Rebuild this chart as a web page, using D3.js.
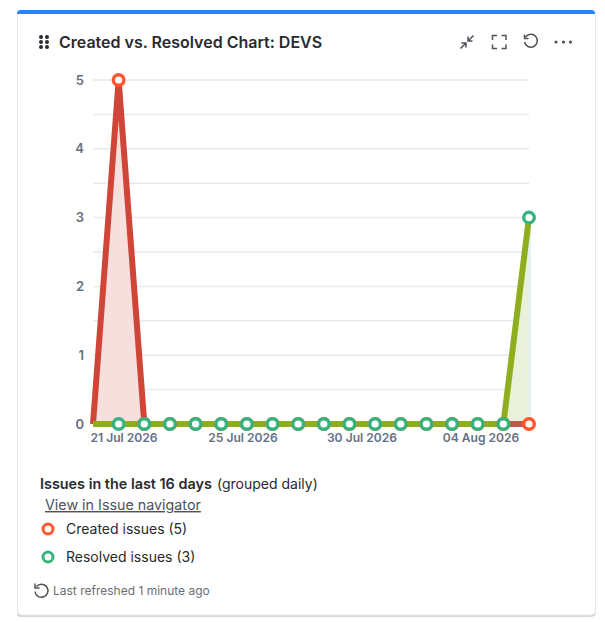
<!DOCTYPE html>
<html>
<head>
<meta charset="utf-8">
<script src="https://cdn.jsdelivr.net/npm/d3@7"></script>
<style>
  html, body { margin: 0; padding: 0; background: #fff; }
  svg { display: block; }
  text { font-family: Inter, "Noto Sans", sans-serif; }
</style>
</head>
<body>
<svg id="chart"></svg>
<script>
// one entry per day shown on the chart
const days = ['20 Jul', '21 Jul', '22 Jul', '23 Jul', '24 Jul', '25 Jul', '26 Jul', '27 Jul', '28 Jul',
              '29 Jul', '30 Jul', '31 Jul', '01 Aug', '02 Aug', '03 Aug', '04 Aug', '05 Aug', '06 Aug']
const created  = [0, 5, 0, 0, 0, 0, 0, 0, 0, 0, 0, 0, 0, 0, 0, 0, 0, 0]
const resolved = [0, 0, 0, 0, 0, 0, 0, 0, 0, 0, 0, 0, 0, 0, 0, 0, 0, 3]
const yTicks = [0, 1, 2, 3, 4, 5]
const gridTicks = [0.5, 1, 1.5, 2, 2.5, 3, 3.5, 4, 4.5, 5]
const xLabels = ['21 Jul 2026', '25 Jul 2026', '30 Jul 2026', '04 Aug 2026']
const legendLabels = ['Created issues (5)', 'Resolved issues (3)']

const width = 605, height = 622
const textDark = '#292a2e', textMuted = '#6b6e76', tickColour = '#667085', iconColour = '#505258'

const svg = d3.select('#chart').attr('width', width).attr('height', height)

// card
svg.append('path').attr('d', 'M18 612V615Q18 616 21 616H591Q595 616 595 612').attr('fill', 'none')
    .attr('stroke', '#c9ccd2').attr('stroke-width', 1.5)
svg.append('rect').attr('x', 17.5).attr('y', 11).attr('width', 578).attr('height', 604).attr('rx', 4)
    .attr('fill', '#fff').attr('stroke', '#e6e7ea')
svg.append('path').attr('d', 'M17 14V13.5Q17 10 20.5 10H591.5Q595 10 595 13.5V14Z').attr('fill', '#2684ff')

// header
let grip = svg.append('g').attr('fill', textDark)
d3.cross([41, 47], [37, 42, 47]).forEach(d => {
    grip.append('circle').attr('cx', d[0]).attr('cy', d[1]).attr('r', 2)
})
svg.append('text').attr('x', 59).attr('y', 48).attr('font-size', 16).attr('font-weight', 600)
    .attr('fill', textDark).text('Created vs. Resolved Chart: DEVS')

let icons = svg.append('g').attr('fill', 'none').attr('stroke', iconColour).attr('stroke-width', 1.5)
icons.append('path').attr('d', 'M460.5 48.5L466 43M461.5 43H466V47.5M473.5 35.5L468 41M468 36.5V41H472.5')
icons.append('path').attr('d', 'M492.5 40V35.5H497M501.5 35.5H506V40M506 44.5V48.5H501.5M497 48.5H492.5V44.5')
icons.append('path').attr('d', 'M525.5 37A6.5 6.5 0 1 1 524.5 42M524.5 34.5V38.5H528.5')
let dots = svg.append('g').attr('fill', iconColour)
;[556, 563.5, 570.5].forEach(cx => {
    dots.append('circle').attr('cx', cx).attr('cy', 42).attr('r', 1.6)
})

// scales
let x = d3.scalePoint().domain(days).range([93, 529])
let y = d3.scaleLinear().domain([0, 5]).range([424, 80])
let xLabelScale = d3.scalePoint().domain(xLabels).range([124, 481])

// grid
svg.append('g').selectAll('line').data(gridTicks).join('line')
    .attr('x1', 93).attr('x2', 529)
    .attr('y1', d => y(d)).attr('y2', d => y(d))
    .attr('stroke', '#e8e9ee').attr('stroke-width', 1.5)

// join series to days so parts of a series can be drawn alone
let points = series => series.map((v, i) => ({day: days[i], v: v}))
let area = d3.area().x(d => x(d.day)).y0(y(0)).y1(d => y(d.v))
let line = d3.line().x(d => x(d.day)).y(d => y(d.v))

// areas
svg.append('path').attr('d', area(points(created))).attr('fill', '#f6dfdc')
svg.append('path').attr('d', area(points(resolved))).attr('fill', '#e9f1db')
svg.append('rect').attr('x', x(days[17]) - 1).attr('y', y(3)).attr('width', 3).attr('height', y(0) - y(3))
    .attr('fill', '#e3f3ec')

// lines, created shows through a bit once resolved leaves it
svg.append('path').attr('d', line(points(created))).attr('fill', 'none').attr('stroke', '#cf4538')
    .attr('stroke-width', 6)
svg.append('path').attr('d', line(points(created).slice(16))).attr('fill', 'none').attr('stroke', '#bc5a45')
    .attr('stroke-width', 6)
svg.append('path').attr('d', line(points(resolved))).attr('fill', 'none').attr('stroke', '#8fae1e')
    .attr('stroke-width', 6)

// points, first day has no marker
let markers = (series, colour) => {
    svg.append('g').selectAll('circle').data(points(series).slice(1)).join('circle')
        .attr('cx', d => x(d.day)).attr('cy', d => y(d.v)).attr('r', 5.3)
        .attr('fill', '#fff').attr('stroke', colour).attr('stroke-width', 3.4)
}
markers(created, '#ff5630')
// resolved goes on top of created wherever both are 0
markers(resolved, '#36b37e')

// axes text
svg.append('g').selectAll('text').data(yTicks).join('text')
    .attr('x', 84).attr('y', d => y(d) + 4.5).attr('text-anchor', 'end')
    .attr('font-size', 13).attr('font-weight', 600).attr('fill', tickColour).text(d => d)
svg.append('g').selectAll('text').data(xLabels).join('text')
    .attr('x', d => xLabelScale(d)).attr('y', 442).attr('text-anchor', 'middle')
    .attr('font-size', 12.1).attr('font-weight', 600).attr('fill', tickColour).text(d => d)

// legend block
svg.append('text').attr('x', 40).attr('y', 489).attr('font-size', 14.4).attr('font-weight', 600)
    .attr('fill', textDark).text('Issues in the last 16 days')
svg.append('text').attr('x', 217).attr('y', 489).attr('font-size', 14)
    .attr('fill', textDark).text('(grouped daily)')
svg.append('text').attr('x', 45).attr('y', 510).attr('font-size', 14.3)
    .attr('fill', iconColour).attr('text-decoration', 'underline').text('View in Issue navigator')

let legendY = d3.scalePoint().domain(legendLabels).range([529, 557])
let legendColour = d3.scaleOrdinal().domain(legendLabels).range(['#ff5630', '#36b37e'])
svg.append('g').selectAll('circle').data(legendLabels).join('circle')
    .attr('cx', 48).attr('cy', d => legendY(d)).attr('r', 5).attr('fill', '#fff')
    .attr('stroke', d => legendColour(d)).attr('stroke-width', 3)
svg.append('g').selectAll('text').data(legendLabels).join('text')
    .attr('x', 66).attr('y', d => legendY(d) + 5).attr('font-size', 14)
    .attr('fill', textDark).text(d => d)

// footer
svg.append('path').attr('d', 'M36.5 586.5A6.5 6.5 0 1 1 35 591.5M35 583.5V588H39.5')
    .attr('fill', 'none').attr('stroke', iconColour).attr('stroke-width', 1.5)
svg.append('text').attr('x', 53).attr('y', 595).attr('font-size', 12)
    .attr('fill', textMuted).text('Last refreshed 1 minute ago')
</script>
</body>
</html>
